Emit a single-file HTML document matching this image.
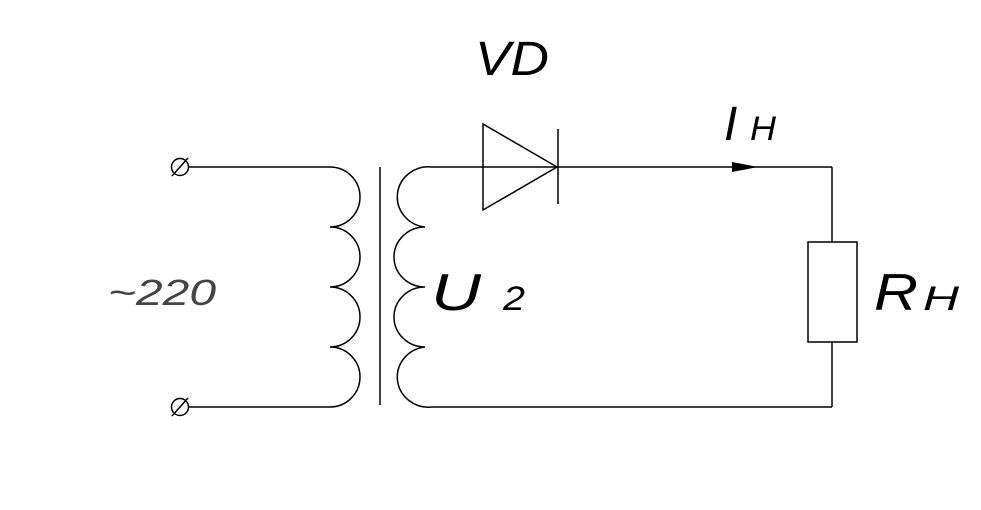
<!DOCTYPE html>
<html><head><meta charset="utf-8"><style>
html,body{margin:0;padding:0;background:#fff;}
svg{display:block;}
text{font-family:"Liberation Sans",sans-serif;font-style:italic;fill:#000;}
</style></head><body>
<svg width="981" height="510" viewBox="0 0 981 510" xmlns="http://www.w3.org/2000/svg">
<g fill="none" stroke="#000" stroke-width="1.5">
<circle cx="180" cy="167" r="8.5"/>
<line x1="172" y1="176" x2="188" y2="158"/>
<circle cx="180" cy="407" r="8.5"/>
<line x1="172" y1="416" x2="188" y2="398"/>
<line x1="189" y1="167" x2="330" y2="167"/>
<line x1="189" y1="407" x2="330" y2="407"/>
<path d="M330 167 A30 30 0 0 1 330 227 A30 30 0 0 1 330 287 A30 30 0 0 1 330 347 A30 30 0 0 1 330 407"/>
<line x1="380" y1="167" x2="380" y2="405"/>
<path d="M432 167 A31 30 0 0 0 425 227 A31 30 0 0 0 425 287 A31 30 0 0 0 425 347 A31 30 0 0 0 432 407"/>
<line x1="432" y1="167" x2="832" y2="167"/>
<line x1="432" y1="407" x2="832" y2="407"/>
<line x1="832" y1="167" x2="832" y2="242"/>
<line x1="832" y1="342" x2="832" y2="407"/>
<rect x="808" y="242" width="49" height="100"/>
<path d="M483 124 L557 167 L483 210 Z"/>
<line x1="558" y1="129" x2="558" y2="204"/>
</g>
<path d="M732 162 L758 167 L732 172 Z" fill="#000"/>
<text x="475" y="75" font-size="48" textLength="74" lengthAdjust="spacingAndGlyphs">VD</text>
<text x="724" y="140" font-size="48">I</text>
<text x="750" y="140" font-size="34" textLength="26" lengthAdjust="spacingAndGlyphs">H</text>
<text x="431" y="310" font-size="52" textLength="50" lengthAdjust="spacingAndGlyphs">U</text>
<text x="503" y="310" font-size="34" textLength="22" lengthAdjust="spacingAndGlyphs">2</text>
<text x="874" y="310" font-size="52" textLength="44" lengthAdjust="spacingAndGlyphs">R</text>
<text x="923" y="310" font-size="34" textLength="36" lengthAdjust="spacingAndGlyphs">H</text>
<text x="108" y="305" font-size="36" textLength="108" lengthAdjust="spacingAndGlyphs" style="fill:#444">~220</text>
</svg>
</body></html>
